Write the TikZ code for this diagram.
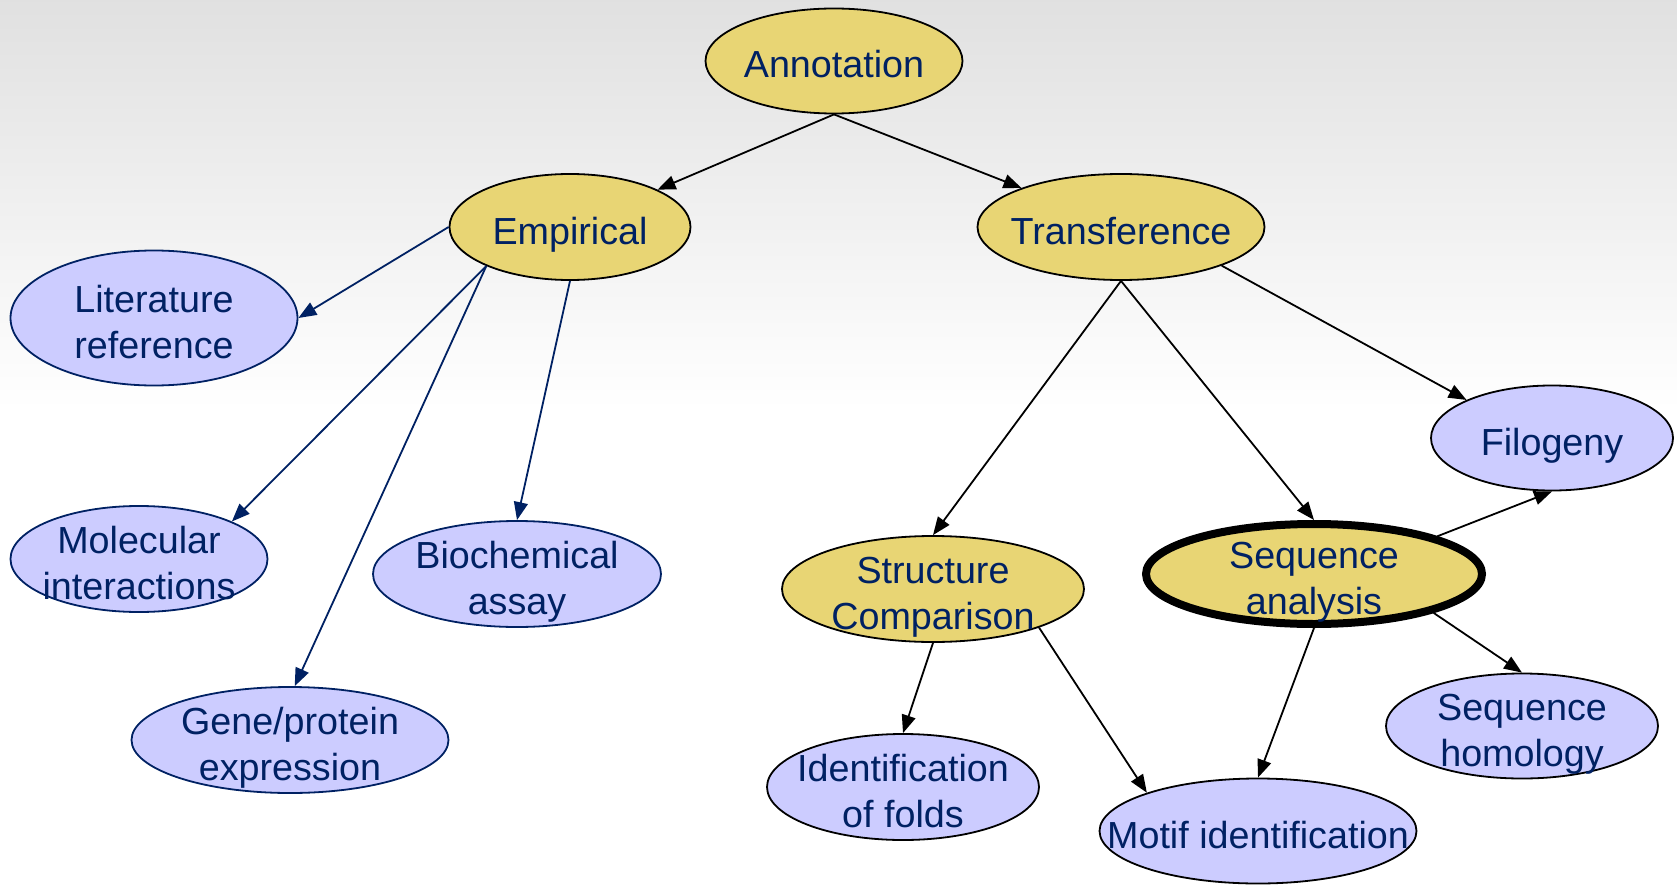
\documentclass[tikz,border=0pt]{standalone}
\usepackage{fontspec}
\setmainfont{Liberation Sans}
\usepackage{tikz}
\usetikzlibrary{shapes,arrows.meta}
\definecolor{navy}{RGB}{0,33,99}
\definecolor{gold}{RGB}{232,213,116}
\definecolor{lilac}{RGB}{204,204,255}
\tikzstyle{topic} = [ellipse, draw=black, fill=gold, text=navy, inner xsep=-80pt, inner ysep=-30pt, line width=1.8pt, align=center, font=\fontsize{37.7}{46}\selectfont, text height=40pt, text depth=6pt]
\tikzstyle{leaf} = [topic, draw=navy, fill=lilac]
\tikzstyle{pair} = [text height=87pt, text depth=6pt]
\tikzstyle{line} = [draw, line width=1.8pt, -{Triangle[length=18pt,width=14pt]}]
\tikzstyle{bline} = [line, navy]

\begin{document}
\begin{tikzpicture}[x=1pt, y=-1pt]
    % Background
    \shade [top color=gray!24, bottom color=white] (0,0) rectangle (1677,410);
    \useasboundingbox (0,0) rectangle (1677,885);
    % Place nodes
    \node [topic, minimum width=257pt, minimum height=105pt] (ann) at (834,61) {Annotation};
    \node [topic, minimum width=241pt, minimum height=106pt] (emp) at (570,227) {Empirical};
    \node [topic, minimum width=287pt, minimum height=106pt] (tra) at (1121,227) {Transference};
    \node [leaf, pair, minimum width=287pt, minimum height=135pt] (lit) at (154,318) {Literature\\reference};
    \node [leaf, pair, minimum width=257pt, minimum height=106pt] (mol) at (139,559) {Molecular\\interactions};
    \node [leaf, pair, minimum width=288pt, minimum height=106pt] (bio) at (517,574) {Biochemical\\assay};
    \node [leaf, pair, minimum width=317pt, minimum height=106pt] (gene) at (290,740) {Gene/protein\\expression};
    \node [topic, pair, minimum width=302pt, minimum height=106pt] (str) at (933,589) {Structure\\Comparison};
    \node [topic, pair, line width=8pt, minimum width=336pt, minimum height=100pt] (seq) at (1314,574) {Sequence\\analysis};
    \node [leaf, draw=black, minimum width=242pt, minimum height=105pt] (filo) at (1552,438) {Filogeny};
    \node [leaf, pair, draw=black, minimum width=272pt, minimum height=105pt] (hom) at (1522,726) {Sequence\\homology};
    \node [leaf, pair, draw=black, minimum width=272pt, minimum height=106pt] (fold) at (903,787) {Identification\\of folds};
    \node [leaf, draw=black, minimum width=317pt, minimum height=105pt] (motif) at (1258,831) {Motif identification};
    % Draw edges
    \path [line] (ann.south) -- (emp);
    \path [line] (ann.south) -- (tra);
    \path [bline] (emp.west) -- (lit.east);
    \path [bline] (emp.205) -- (mol.22);
    \path [bline] (emp.205) -- (gene.85);
    \path [bline] (emp.south) -- (bio.north);
    \path [line] (tra.south) -- (str.north);
    \path [line] (tra.south) -- (seq.north);
    \path [line] (tra.-21) -- (filo.156);
    \path [line] (seq.17) -- (filo.south);
    \path [line] (seq.south) -- (motif.north);
    \path [line] (seq.-18) -- (hom.north);
    \path [line] (str.south) -- (fold.north);
    \path [line] (str.-20) -- (motif.161);
\end{tikzpicture}
\end{document}
